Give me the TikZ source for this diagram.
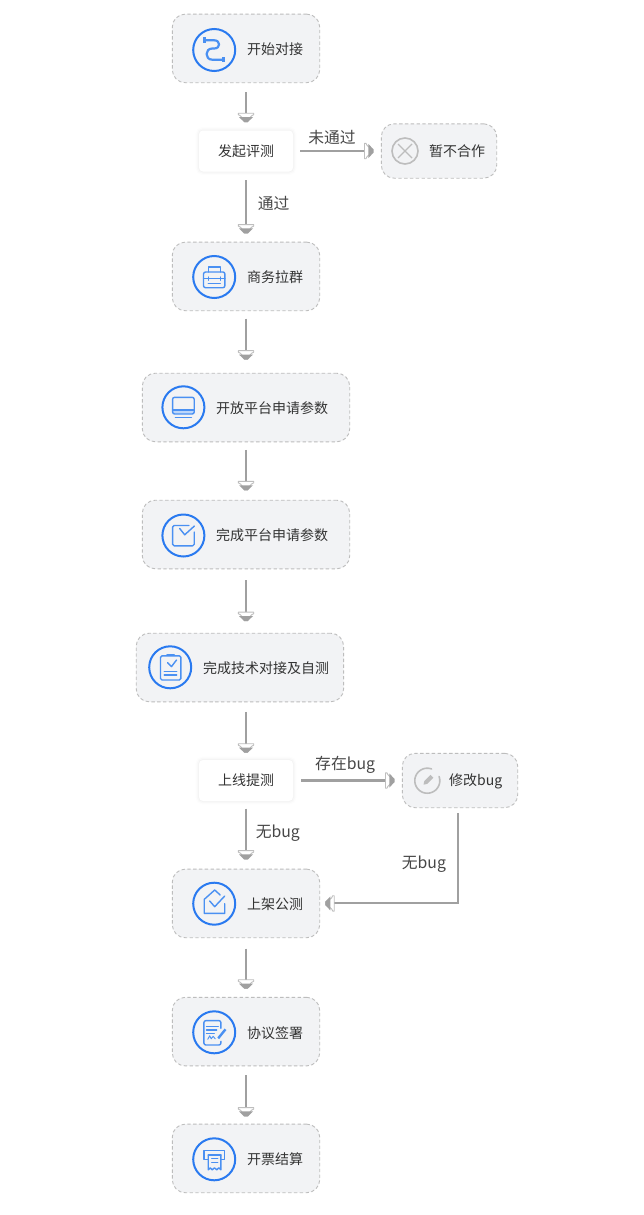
\documentclass[tikz,border=0pt]{standalone}
\usepackage{fontspec}
\setmainfont{Noto Sans CJK SC}
\definecolor{boxfill}{HTML}{F2F3F5}
\definecolor{boxline}{HTML}{BDBDBD}
\definecolor{ringblue}{HTML}{2A7AF0}
\definecolor{iconblue}{HTML}{4A90F2}
\definecolor{iconpale}{HTML}{BCD6FA}
\definecolor{linegray}{HTML}{A0A0A0}
\definecolor{headlight}{HTML}{BEBEBE}
\definecolor{greyicon}{HTML}{BDBDBD}
\definecolor{ink}{HTML}{333333}
\pgfdeclarearrow{
  name=HalfDisc,
  setup code={
    \pgfarrowssettipend{0pt}
    \pgfarrowssetlineend{-9pt}
    \pgfarrowssetvisualbackend{-9.6pt}
    \pgfarrowssetbackend{-9.6pt}
    \pgfarrowshullpoint{0pt}{0pt}
    \pgfarrowshullpoint{-9.6pt}{8pt}
    \pgfarrowshullpoint{-9.6pt}{-8pt}
  },
  drawing code={
    \pgfsetdash{}{0pt}
    \pgfsetlinewidth{0.9pt}
    \pgfsetroundjoin
    \pgfsetstrokecolor{headlight}
    \pgfpathmoveto{\pgfqpoint{-9.1pt}{-7.7pt}}
    \pgfpathlineto{\pgfqpoint{-7.6pt}{-7.7pt}}
    \pgfpathcurveto{\pgfqpoint{-7pt}{-4.5pt}}{\pgfqpoint{-2pt}{-2.5pt}}{\pgfqpoint{-0.5pt}{-1.5pt}}
    \pgfpathlineto{\pgfqpoint{-0.5pt}{1.5pt}}
    \pgfpathcurveto{\pgfqpoint{-2pt}{2.5pt}}{\pgfqpoint{-7pt}{4.5pt}}{\pgfqpoint{-7.6pt}{7.7pt}}
    \pgfpathlineto{\pgfqpoint{-9.1pt}{7.7pt}}
    \pgfpathclose
    \pgfusepathqstroke
    \pgfsetfillcolor{linegray}
    \pgfpathmoveto{\pgfqpoint{-5.2pt}{7pt}}
    \pgfpathlineto{\pgfqpoint{-5.2pt}{-7pt}}
    \pgfpathlineto{\pgfqpoint{-0.2pt}{-1.8pt}}
    \pgfpathlineto{\pgfqpoint{-0.2pt}{1.8pt}}
    \pgfpathclose
    \pgfusepathqfill
  }
}
\newcommand{\fsz}[1]{\fontsize{#1}{#1}\selectfont}
\tikzset{
  x=1pt,y=-1pt,
  stagebox/.style={draw=boxline,fill=boxfill,line width=0.9pt,dash pattern=on 3.4pt off 2.4pt,rounded corners=13pt,inner sep=0pt,minimum height=68.6pt},
  wide/.style={stagebox,minimum width=207.4pt},
  std/.style={stagebox,minimum width=147.4pt},
  side/.style={stagebox,minimum width=115.4pt,minimum height=54.4pt},
  decision/.style={fill=white,rounded corners=4pt,minimum width=94pt,minimum height=41pt,inner sep=0pt,text=ink,font=\fsz{14},
    preaction={draw=black,opacity=.008,line width=7pt},
    preaction={draw=black,opacity=.014,line width=4.5pt},
    preaction={draw=black,opacity=.02,line width=2pt}},
  ring/.style={circle,draw=ringblue,line width=2pt,minimum size=42pt,inner sep=0pt},
  stagetext/.style={anchor=west,inner sep=0pt,text=ink,font=\fsz{14}},
  edgetext/.style={inner sep=0pt,text=ink!90,font=\fsz{15.8}},
  conn/.style={draw=linegray,line width=2.1pt,-HalfDisc},
  ico/.style={draw=iconblue,line width=1.4pt,line join=round,line cap=round},
  pics/iroute/.style={code={
    \draw[ico,line width=2.2pt] (-9.5,-9.7) -- (0,-9.7) .. controls (6.5,-9.7) and (6.5,-1.5) .. (0,-1.5) -- (-2,-1.5) .. controls (-9.5,-1.5) and (-9.5,9.7) .. (-2,9.7) -- (9,9.7);
    \fill[iconblue] (-11.5,-12.5) rectangle (-8,-7);
    \fill[iconblue] (7.5,7) rectangle (11,12.5);
  }},
  pics/icase/.style={code={
    \draw[ico] (-6,-5) -- (-6,-10) -- (6,-10) -- (6,-5);
    \draw[ico,rounded corners=2pt] (-10.7,-5) rectangle (10.7,10.7);
    \draw[ico] (-10.7,1.7) -- (10.7,1.7);
    \draw[ico] (-6,0) -- (-6,3.2) (6,0) -- (6,3.2);
    \draw[ico] (-6,6.7) -- (6,6.7);
  }},
  pics/ilaptop/.style={code={
    \fill[iconpale] (-10.8,2.7) rectangle (10.8,6.7);
    \draw[ico,rounded corners=2pt] (-10.8,6.7) rectangle (10.8,-10);
    \draw[ico] (-10.8,2.7) -- (10.8,2.7);
    \draw[ico] (-8,10) -- (8,10);
  }},
  pics/icheckbox/.style={code={
    \draw[ico,rounded corners=1.5pt] (5.5,-10) -- (-10.8,-10) -- (-10.8,10.3) -- (10.8,10.3) -- (10.8,-3.5);
    \draw[ico] (-3.7,-7) -- (1.3,-0.7) -- (11,-9.5);
  }},
  pics/iclip/.style={code={
    \draw[ico,rounded corners=1.5pt] (-9.7,-11.5) rectangle (10.7,12.7);
    \draw[ico,line width=2pt] (-3,-12.3) -- (4,-12.3);
    \draw[ico] (-2.7,-4.7) -- (1.3,-0.7) -- (6.3,-7.3);
    \draw[ico] (-6,4.3) -- (6.5,4.3) (-6,7.7) -- (6.5,7.7);
  }},
  pics/ihouse/.style={code={
    \draw[ico] (6,-8.7) -- (0.5,-13.7) -- (-10,-4.3) -- (-10,9.7) -- (10.5,9.7) -- (10.5,0);
    \draw[ico] (-4.5,-2.7) -- (0.5,3) -- (10.5,-7.7);
  }},
  pics/idoc/.style={code={
    \draw[ico,rounded corners=2pt] (6.7,-4) -- (6.7,-11.7) -- (-10.3,-11.7) -- (-10.3,12.7) -- (6.7,12.7) -- (6.7,9);
    \draw[ico] (-7.7,-5.7) -- (4,-5.7) (-7.7,-2.3) -- (2.5,-2.3) (-7.7,1) -- (0,1);
    \draw[ico,line width=0.9pt] (-6.5,7) -- (-4.5,3.5) -- (-3,6.5) -- (-1,4) -- (1,6.5);
    \draw[ico,line width=2.4pt,line cap=butt] (4,6) -- (11.3,-3);
  }},
  pics/ireceipt/.style={code={
    \draw[ico] (-6,0) -- (-10.3,0) -- (-10.3,-8.7) -- (10.3,-8.7) -- (10.3,0) -- (6.7,0);
    \draw[ico] (-6,-4.3) -- (6.7,-4.3);
    \draw[ico] (-6,-4.3) -- (-6,10.5) -- (-4,8.5) -- (-2,10.5) -- (0.3,8.5) -- (2.5,10.5) -- (4.7,8.5) -- (6.7,10.5) -- (6.7,-4.3);
    \draw[ico] (-2.5,-1) -- (3.5,-1) (-2.5,3) -- (3.5,3);
  }},
  pics/ipencil/.style={code={
    \draw[draw=greyicon,line width=1.6pt,line cap=round] plot[domain=-20:290,samples=60,smooth] ({12.5*cos(\x)},{12.5*sin(\x)});
    \fill[greyicon] (-3.8,4) -- (-3,0.4) -- (3.2,-5.8) -- (6,-3) -- (-0.2,3.2) -- cycle;
  }}
}
\begin{document}
\begin{tikzpicture}
\useasboundingbox (0,0) rectangle (643,1215);
\fill[white] (0,0) rectangle (643,1215);

% stage boxes
\node[std]  (start)  at (246,48.4) {};
\node[decision] (review) at (246,151) {\raisebox{-0.5pt}{发起评测}};
\node[side] (reject) at (439,151) {};
\node[std]  (group)  at (246,276.4) {};
\node[wide] (apply)  at (246,407.5) {};
\node[wide] (done)   at (246,534.5) {};
\node[wide] (tech)   at (239.9,667.5) {};
\node[decision] (test) at (246,780.5) {\raisebox{-0.5pt}{上线提测}};
\node[side] (fix)    at (460,780.5) {};
\node[std]  (pub)    at (246,903.4) {};
\node[std]  (sign)   at (246,1031.6) {};
\node[std]  (bill)   at (246,1158.4) {};

% rings
\node[ring] (r1) at (214.2,50) {};
\node[ring] (r2) at (214.2,277) {};
\node[ring] (r3) at (183.4,407.3) {};
\node[ring] (r4) at (183.4,535.5) {};
\node[ring] (r5) at (170.2,667.3) {};
\node[ring] (r6) at (214.2,903.7) {};
\node[ring] (r7) at (214.2,1032.3) {};
\node[ring] (r8) at (214.2,1159.3) {};
\node[circle,draw=greyicon,line width=1.6pt,minimum size=26pt,inner sep=0pt] (rx) at (405,151) {};

% icons
\pic at (r1) {iroute};
\pic at (r2) {icase};
\pic at (r3) {ilaptop};
\pic at (r4) {icheckbox};
\pic at (r5) {iclip};
\pic at (r6) {ihouse};
\pic at (r7) {idoc};
\pic at (r8) {ireceipt};
\pic at (427.3,780.7) {ipencil};
\draw[greyicon,line width=1.4pt] (rx.center) ++(-7,-7) -- ++(14,14) ++(0,-14) -- ++(-14,14);

% stage texts
\node[stagetext] (t1) at (247,49.6) {开始对接};
\node[stagetext] (t2) at (429,151.5) {暂不合作};
\node[stagetext] (t3) at (247,277.6) {商务拉群};
\node[stagetext] (t4) at (216,408.3) {开放平台申请参数};
\node[stagetext] (t5) at (216,535.6) {完成平台申请参数};
\node[stagetext] (t6) at (203,668.3) {完成技术对接及自测};
\node[stagetext] (t7) at (449,781.2) {修改bug};
\node[stagetext] (t8) at (247,904) {上架公测};
\node[stagetext] (t9) at (247,1033.3) {协议签署};
\node[stagetext] (t10) at (247,1159.4) {开票结算};

% connectors
\draw[conn,shorten <=9.3pt,shorten >=8pt] (start.south) -- (review.north);
\draw[conn,shorten <=8.5pt,shorten >=8pt] (review.south) -- (group.north);
\draw[conn,shorten <=7.5pt,shorten >=13pt] (group.south) -- (apply.north);
\draw[conn,shorten <=7.5pt,shorten >=9.3pt] (apply.south) -- (done.north);
\draw[conn,shorten <=11pt,shorten >=11.5pt] (done.south) -- (tech.north -| done.south);
\draw[conn,shorten <=9.5pt,shorten >=7pt] (tech.south -| test.north) -- (test.north);
\draw[conn,shorten <=7.5pt,shorten >=9pt] (test.south) -- (pub.north);
\draw[conn,shorten <=10.5pt,shorten >=8pt] (pub.south) -- (sign.north);
\draw[conn,shorten <=9pt,shorten >=7pt] (sign.south) -- (bill.north);
\draw[conn,shorten <=7pt,shorten >=7.3pt] (review.east) -- (reject.west);
\draw[conn,shorten <=8pt,shorten >=7.3pt] (test.east) -- (fix.west);
\coordinate (fixout) at (457.7,813);
\draw[conn,shorten >=5pt] (fixout) |- (pub.east);

% connector labels
\node[edgetext] (l1) at (332,137.6) {未通过};
\node[edgetext] (l2) at (273.6,203) {通过};
\node[edgetext,anchor=west] (l3) at (315,765) {存在bug};
\node[edgetext,anchor=west] (l4) at (255.6,833) {无bug};
\node[edgetext,anchor=west] (l5) at (401.7,863.7) {无bug};
\end{tikzpicture}
\end{document}
